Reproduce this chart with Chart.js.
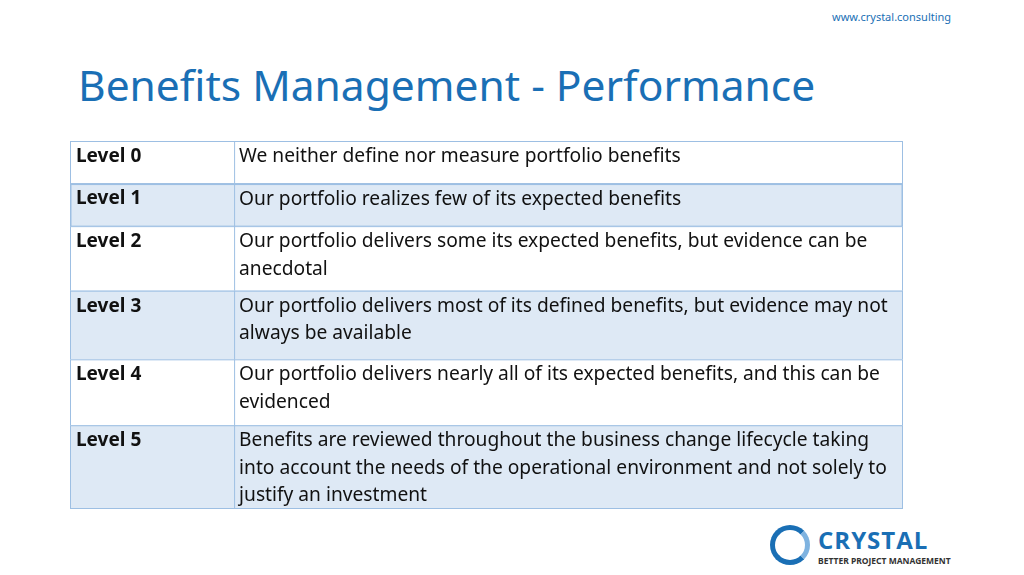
<!DOCTYPE html>
<html><head><meta charset="utf-8">
<script src="https://cdn.jsdelivr.net/npm/chart.js@4"></script>
<style>
body{margin:0;width:1024px;height:575px;background:#fff;font-family:"Noto Sans",sans-serif;position:relative;overflow:hidden}
#url{position:absolute;left:832px;top:9px;font-size:11px;color:#1a6fb5}
#title{position:absolute;left:78px;top:56px;font-size:42.5px;color:#1a6fb5;font-weight:400}
#wrap{position:absolute;left:70px;top:141px;width:833px;height:368px}
#logo{position:absolute;left:770px;top:525px}
#ring{position:absolute;left:0;top:0;width:30px;height:30px;border:5px solid #1a6fb5;border-right-color:#7fb3e0;border-radius:50%}
#lt{position:absolute;left:48px;top:3px;font-size:24px;font-weight:700;color:#1a6fb5;letter-spacing:1px;font-family:"Open Sans",sans-serif;line-height:24px}
#ls{position:absolute;left:48px;top:30px;font-size:8.5px;font-weight:700;color:#333;white-space:nowrap}
</style></head>
<body>
<div id="url">www.crystal.consulting</div>
<div id="title">Benefits Management - Performance</div>
<div id="wrap"><canvas id="tbl"></canvas></div>
<div id="logo"><div id="ring"></div><div id="lt">CRYSTAL</div><div id="ls">BETTER PROJECT MANAGEMENT</div></div>
<script>
// table content
var levels = ["Level 0", "Level 1", "Level 2", "Level 3", "Level 4", "Level 5"];
var descriptions = [
    ["We neither define nor measure portfolio benefits"],
    ["Our portfolio realizes few of its expected benefits"],
    ["Our portfolio delivers some its expected benefits, but evidence can be", "anecdotal"],
    ["Our portfolio delivers most of its defined benefits, but evidence may not", "always be available"],
    ["Our portfolio delivers nearly all of its expected benefits, and this can be", "evidenced"],
    ["Benefits are reviewed throughout the business change lifecycle taking", "into account the needs of the operational environment and not solely to", "justify an investment"]
];
var rowUnits = [1.55, 1.55, 2.35, 2.5, 2.4, 3.05];

// row extents on the y scale
var tops = [];
var acc = 0;
for (let i = 0; i < rowUnits.length; i++) {
    tops.push(acc);
    acc += rowUnits[i];
}
var total = acc;

var tablePlugin = {
    id: "tablePlugin",
    afterDraw: function (chart) {
        var ctx = chart.ctx;
        var xs = chart.scales.x, ys = chart.scales.y;
        var x0 = xs.getPixelForValue(0), x1 = xs.getPixelForValue(0.197), x2 = xs.getPixelForValue(1);
        ctx.save();
        for (let i = 0; i < levels.length; i++) {
            var yt = ys.getPixelForValue(tops[i]);
            var yb = Math.min(ys.getPixelForValue(tops[i] + rowUnits[i]), chart.height - 1);
            ctx.fillStyle = i % 2 ? "#dee9f5" : "#ffffff";
            ctx.fillRect(x0, yt, x2 - x0, yb - yt);
            ctx.strokeStyle = "#9dbfe3";
            ctx.lineWidth = i == 1 ? 2 : 1;
            ctx.strokeRect(x0 + 0.5, yt + 0.5, x2 - x0 - 1, yb - yt);
            ctx.lineWidth = 1;
            ctx.beginPath();
            ctx.moveTo(x1 + 0.5, yt);
            ctx.lineTo(x1 + 0.5, yb);
            ctx.stroke();
            ctx.fillStyle = "#111";
            ctx.textBaseline = "top";
            ctx.font = "bold 19px 'Noto Sans', sans-serif";
            ctx.fillText(levels[i], x0 + 6, yt + 6);
            ctx.font = "19.2px 'Noto Sans', sans-serif";
            descriptions[i].forEach(function (line, j) {
                ctx.fillText(line, x1 + 5, yt + 6 + j * 27.5);
            });
        }
        ctx.restore();
    }
};

new Chart(document.getElementById("tbl").getContext("2d"), {
    type: "scatter",
    data: { datasets: [{ data: [] }] },
    options: {
        responsive: true,
        maintainAspectRatio: false,
        animation: false,
        layout: { padding: 0 },
        plugins: { legend: { display: false }, tooltip: { enabled: false } },
        scales: {
            x: { type: "linear", min: 0, max: 1, display: false },
            y: { type: "linear", min: 0, max: total, reverse: true, display: false }
        }
    },
    plugins: [tablePlugin]
});
</script>
</body></html>
